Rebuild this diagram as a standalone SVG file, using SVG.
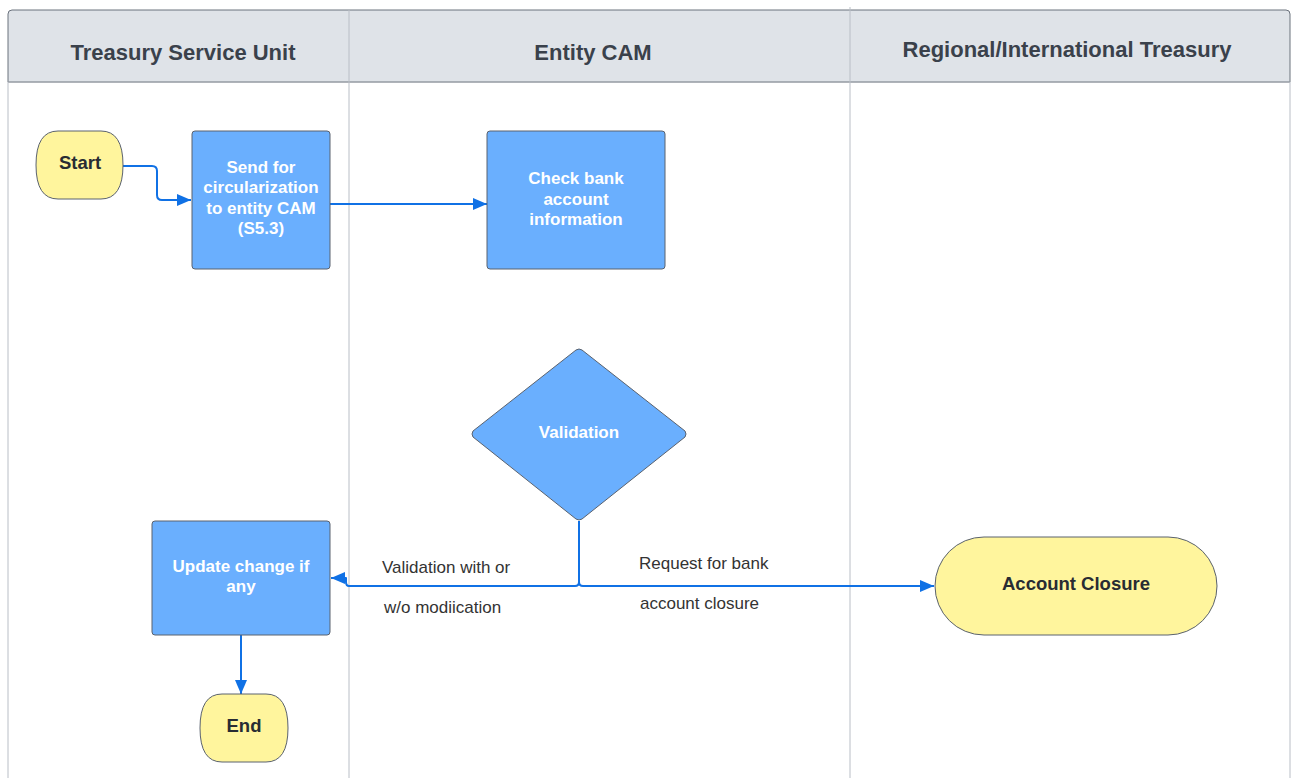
<svg xmlns="http://www.w3.org/2000/svg" width="1291" height="778" viewBox="0 0 1291 778">
<style>
.hdr{font-family:"Liberation Sans",Arial,sans-serif;font-size:22px;font-weight:bold;fill:#3a414b;text-anchor:middle}
.nt{font-family:"Liberation Sans",Arial,sans-serif;font-size:17px;font-weight:bold;fill:#ffffff;text-anchor:middle}
.tt{font-family:"Liberation Sans",Arial,sans-serif;font-size:18.5px;font-weight:bold;fill:#282c33;text-anchor:middle}
.lbl{font-family:"Liberation Sans",Arial,sans-serif;font-size:17px;fill:#333333}
.box{fill:#6aaffe;stroke:#5a626e;stroke-width:1}
.term{fill:#fff59d;stroke:#5a626e;stroke-width:1}
.conn{fill:none;stroke:#1071e5;stroke-width:2;stroke-linejoin:round}
.lane{stroke:#b9bec6;stroke-width:1}
</style>
<defs>
<marker id="arr" markerWidth="14" markerHeight="12" refX="14" refY="6" orient="auto" markerUnits="userSpaceOnUse" viewBox="0 0 14 12">
<path d="M0,0 L14,6 L0,12 Z" fill="#1071e5"/>
</marker>
</defs>
<rect width="1291" height="778" fill="#ffffff"/>
<g id="pool">
<path d="M8,82 V14 Q8,10 12,10 H1286 Q1290,10 1290,14 V82 Z" fill="#dfe3e8" stroke="#6b727d" stroke-width="1"/>
<line x1="8" y1="82" x2="1290" y2="82" stroke="#a9aeb6" stroke-width="1"/>
<line x1="8" y1="82" x2="8" y2="778" class="lane"/>
<line x1="1290" y1="82" x2="1290" y2="778" class="lane"/>
<line x1="349" y1="10" x2="349" y2="778" class="lane"/>
<line x1="850" y1="7" x2="850" y2="778" class="lane"/>
<text class="hdr" x="183" y="60">Treasury Service Unit</text>
<text class="hdr" x="593" y="60">Entity CAM</text>
<text class="hdr" x="1067" y="57">Regional/International Treasury</text>
</g>
<g id="connectors">
<path class="conn" d="M123,166 H152 Q157,166 157,171 V195 Q157,200 162,200 H191" marker-end="url(#arr)"/>
<path class="conn" d="M330,204 H487" marker-end="url(#arr)"/>
<path class="conn" d="M579,521 V582 Q579,586 575,586 H349 Q346,586 346,582 V578 H331" marker-end="url(#arr)"/>
<path class="conn" d="M579,582 Q579,586 583,586 H934" marker-end="url(#arr)"/>
<path class="conn" d="M241,635 V694" marker-end="url(#arr)"/>
<text class="lbl" x="382" y="573">Validation with or</text>
<text class="lbl" x="384" y="613">w/o modiication</text>
<text class="lbl" x="639" y="569">Request for bank</text>
<text class="lbl" x="640" y="609">account closure</text>
</g>
<g id="start">
<path class="term" d="M58,131 H101 Q123,131 123,165 Q123,199 101,199 H58 Q36,199 36,165 Q36,131 58,131 Z"/>
<text class="tt" x="80" y="169">Start</text>
</g>
<g id="send">
<rect class="box" x="192" y="131" width="138" height="138" rx="3"/>
<text class="nt" x="261" y="173">Send for</text>
<text class="nt" x="261" y="193">circularization</text>
<text class="nt" x="261" y="214">to entity CAM</text>
<text class="nt" x="261" y="234">(S5.3)</text>
</g>
<g id="check">
<rect class="box" x="487" y="131" width="178" height="138" rx="3"/>
<text class="nt" x="576" y="184">Check bank</text>
<text class="nt" x="576" y="205">account</text>
<text class="nt" x="576" y="225">information</text>
</g>
<g id="validation">
<path class="box" d="M576,350 Q579,348 582,350 L685,431 Q687,434 685,437 L582,519 Q579,521 576,519 L473,437 Q471,434 473,431 Z"/>
<text class="nt" x="579" y="438">Validation</text>
</g>
<g id="update">
<rect class="box" x="152" y="521" width="178" height="114" rx="3"/>
<text class="nt" x="241" y="572">Update change if</text>
<text class="nt" x="241" y="592">any</text>
</g>
<g id="end">
<path class="term" d="M222,694 H266 Q288,694 288,728 Q288,762 266,762 H222 Q200,762 200,728 Q200,694 222,694 Z"/>
<text class="tt" x="244" y="732">End</text>
</g>
<g id="closure">
<rect class="term" x="935" y="537" width="282" height="98" rx="49"/>
<text class="tt" x="1076" y="590">Account Closure</text>
</g>
</svg>
